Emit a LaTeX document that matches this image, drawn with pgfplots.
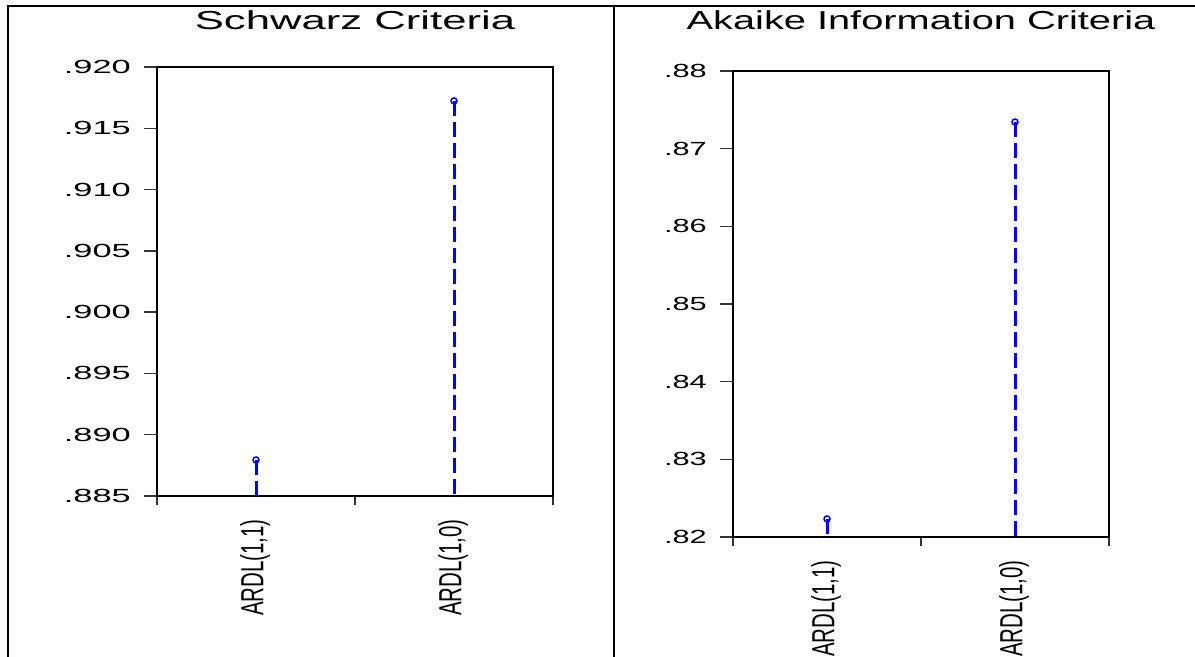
\documentclass[border=0pt]{standalone}
\usepackage{pgfplots}
\pgfplotsset{compat=1.18}
\usepackage{fontspec}
\setmainfont{Liberation Sans}
\newfontfamily\titlefontL[FakeStretch=1.68]{Liberation Sans}
\newfontfamily\titlefontR[FakeStretch=1.53]{Liberation Sans}
\newfontfamily\tickfontL[FakeStretch=1.81]{Liberation Sans}
\newfontfamily\tickfontR[FakeStretch=1.62]{Liberation Sans}
\newfontfamily\labfont[FakeStretch=0.64]{Liberation Sans}
\definecolor{stemblue}{RGB}{0,0,255}
\pgfplotsset{
  ecrit/.style={
    scale only axis, anchor=south west,
    xmin=0.5, xmax=2.5,
    xtick={1,2},
    xticklabels={{ARDL(1,1)},{ARDL(1,0)}},
    minor xtick={0.5,1.5,2.5},
    every major x tick/.append style={draw=none},
    tick align=outside,
    xtick pos=lower, ytick pos=left,
    major tick length=13bp, minor tick length=9bp,
    axis line style={line width=2bp},
    every tick/.append style={line width=1.5bp, black!80},
    /pgf/number format/assume math mode=true,
    yticklabel style={anchor=east, inner sep=0pt, xshift=-13bp},
    xticklabel style={font=\labfont\fontsize{32bp}{34bp}\selectfont, rotate=90, anchor=east, inner sep=0pt, xshift=-10bp, yshift=1bp},
    title style={at={(0.5,1)}, anchor=base, inner sep=0pt},
    clip=false,
  },
  stem/.style={stemblue, line width=3bp, dash pattern=on 15bp off 6bp,
    mark=o, mark indices={1}, mark size=3bp,
    mark options={solid, line width=1.5bp}},
}
\begin{document}
\begin{tikzpicture}[x=1bp,y=1bp]
\clip (0,0) rectangle (1195,657);
\fill[white] (0,0) rectangle (1195,657);
\draw[line width=2.5bp] (8,-5) -- (8,651) -- (1200,651);
\draw[line width=2.5bp] (614,-5) -- (614,651);

\begin{axis}[ecrit, at={(157bp,161bp)}, width=396bp, height=429bp,
  ymin=0.885, ymax=0.920,
  ytick={0.885,0.890,0.895,0.900,0.905,0.910,0.915,0.920},
  yticklabels={.885,.890,.895,.900,.905,.910,.915,.920},
  yticklabel style={font=\tickfontL\fontsize{19bp}{21bp}\selectfont},
  title style={font=\titlefontL\fontsize{26bp}{28bp}\selectfont, yshift=32bp},
  title={Schwarz Criteria}]
\addplot[stem] coordinates {(1,0.88794) (1,0.885)};
\addplot[stem] coordinates {(2,0.91723) (2,0.885)};
\end{axis}

\begin{axis}[ecrit, at={(733bp,120bp)}, width=376bp, height=466bp,
  ymin=0.82, ymax=0.88,
  ytick={0.82,0.83,0.84,0.85,0.86,0.87,0.88},
  yticklabels={.82,.83,.84,.85,.86,.87,.88},
  yticklabel style={font=\tickfontR\fontsize{19bp}{21bp}\selectfont},
  title style={font=\titlefontR\fontsize{26bp}{28bp}\selectfont, yshift=36bp},
  title={Akaike Information Criteria}]
\addplot[stem] coordinates {(1,0.82232) (1,0.82)};
\addplot[stem] coordinates {(2,0.87343) (2,0.82)};
\end{axis}
\end{tikzpicture}
\end{document}
